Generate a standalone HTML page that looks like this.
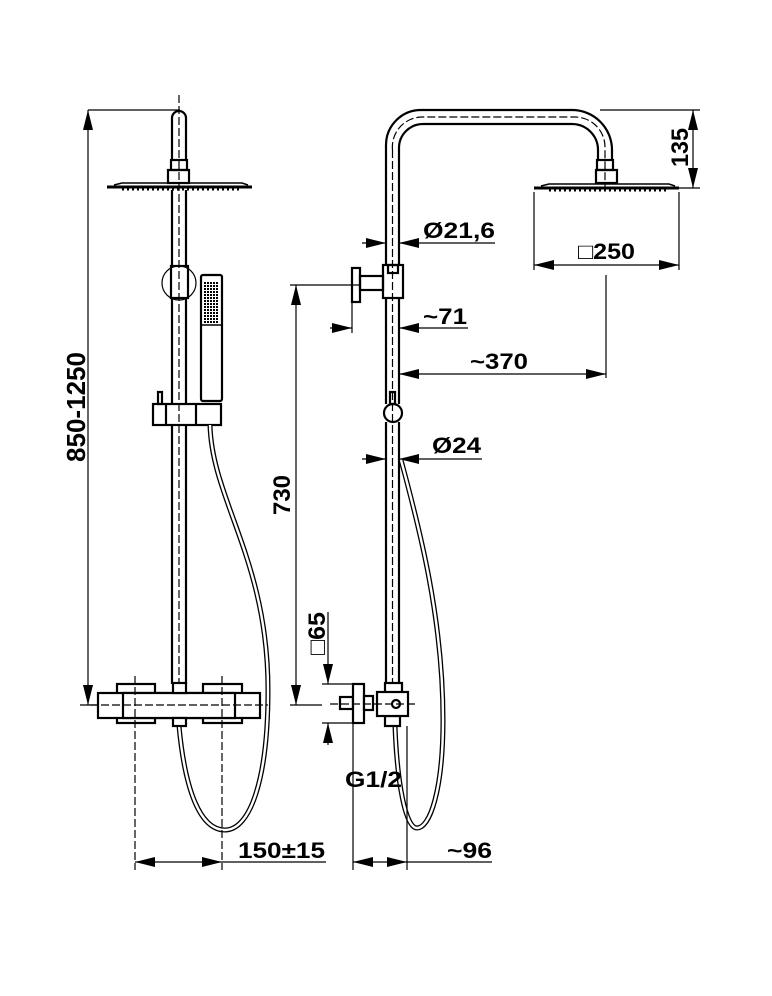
<!DOCTYPE html>
<html><head><meta charset="utf-8"><style>
html,body{margin:0;padding:0;background:#fff}
svg{display:block}
text{font-family:"Liberation Sans",Arial,sans-serif;font-weight:bold;fill:#000}
</style></head><body>
<svg width="772" height="996" viewBox="0 0 772 996" xmlns="http://www.w3.org/2000/svg">
<defs>
<marker id="a" viewBox="0 0 20 10" refX="20" refY="5" markerWidth="20" markerHeight="10" markerUnits="userSpaceOnUse" orient="auto-start-reverse"><path d="M0,0 L20,5 L0,10 z" fill="#000"/></marker>
<pattern id="dots" width="3" height="3" patternUnits="userSpaceOnUse"><rect width="2" height="2" fill="#000"/></pattern>
</defs>
<g fill="none" stroke="#000" stroke-width="1.2">
<!-- LEFT VIEW -->
<line x1="88" y1="110" x2="180" y2="110"/>
<line x1="80" y1="705" x2="180" y2="705"/>
<line x1="88" y1="110" x2="88" y2="705" marker-start="url(#a)" marker-end="url(#a)"/>
<line x1="179" y1="95" x2="179" y2="735" stroke-dasharray="8,3"/>
<g stroke-width="2.2">
<path d="M172,160 V118 a7,7 0 0 1 14,0 V160"/>
<rect x="171" y="160" width="16" height="10"/>
<rect x="168" y="170" width="21" height="13"/>
<line x1="172" y1="190" x2="172" y2="266"/>
<line x1="186" y1="190" x2="186" y2="266"/>
<rect x="171" y="266" width="17" height="32"/>
<line x1="172" y1="298" x2="172" y2="404"/>
<line x1="186" y1="298" x2="186" y2="404"/>
<line x1="172" y1="425" x2="172" y2="684"/>
<line x1="186" y1="425" x2="186" y2="684"/>
</g>
<circle cx="179" cy="283" r="17"/>
<path d="M107,187 H252" stroke-width="3"/>
<path d="M114,185 L122,183 H242 L248,185" stroke-width="1.5"/>
<path d="M122,189 H240" stroke-width="3" stroke-dasharray="2,3"/>
<rect x="201" y="275" width="21" height="126" rx="2" stroke-width="2.2"/>
<line x1="201" y1="325" x2="222" y2="325" stroke-width="1.5"/>
<rect x="204" y="282" width="15" height="42" fill="url(#dots)" stroke="none"/>
<g stroke-width="2.2">
<rect x="158" y="392" width="4" height="12"/>
<rect x="153" y="404" width="68" height="21"/>
<line x1="166" y1="404" x2="166" y2="425"/>
<line x1="196" y1="404" x2="196" y2="425"/>
</g>
<path d="M210,425 C212,500 268,560 268,690 C268,780 250,830 225,830 C200,830 185,790 179,726" stroke-width="5"/>
<path d="M210,425 C212,500 268,560 268,690 C268,780 250,830 225,830 C200,830 185,790 179,726" stroke="#fff" stroke-width="2.4"/>
<g stroke-width="2.2" fill="#fff">
<rect x="117" y="684" width="38" height="39"/>
<rect x="203" y="684" width="39" height="39"/>
<rect x="98" y="693" width="162" height="25"/>
<rect x="123" y="693" width="112" height="25"/>
<rect x="173" y="683" width="13" height="10"/>
<rect x="173" y="718" width="13" height="8"/>
</g>
<line x1="90" y1="705" x2="268" y2="705" stroke-dasharray="8,3"/>
<line x1="135" y1="676" x2="135" y2="870" stroke-dasharray="8,3"/>
<line x1="222" y1="676" x2="222" y2="870" stroke-dasharray="8,3"/>
<line x1="135" y1="862" x2="222" y2="862" marker-start="url(#a)" marker-end="url(#a)"/>
<line x1="222" y1="862" x2="326" y2="862"/>

<!-- RIGHT VIEW -->
<line x1="290" y1="285" x2="360" y2="285"/>
<line x1="290" y1="705" x2="322" y2="705"/>
<line x1="296" y1="285" x2="296" y2="705" marker-start="url(#a)" marker-end="url(#a)"/>
<g stroke-width="2.2">
<path d="M386,265 V145 a35,35 0 0 1 35,-35 H572 a40,40 0 0 1 40,40 V160"/>
<path d="M399,265 V148 a24,24 0 0 1 24,-24 H572 a26,26 0 0 1 26,26 V160"/>
<rect x="597" y="160" width="16" height="10"/>
<rect x="596" y="170" width="21" height="13"/>
<rect x="383" y="265" width="20" height="33"/>
<rect x="388" y="265" width="10" height="8"/>
<rect x="360" y="276" width="23" height="14"/>
<rect x="352" y="268" width="8" height="34"/>
<line x1="386" y1="298" x2="386" y2="404"/>
<line x1="399" y1="298" x2="399" y2="404"/>
<line x1="386" y1="422" x2="386" y2="684"/>
<line x1="399" y1="422" x2="399" y2="684"/>
<rect x="390" y="392" width="5" height="12"/>
<circle cx="393" cy="413" r="9"/>
</g>
<path d="M392.5,150 a30,30 0 0 1 30,-33 H575 a30,30 0 0 1 30,30 V190" stroke-dasharray="8,3"/>
<line x1="392.5" y1="150" x2="392.5" y2="700" stroke-dasharray="8,3"/>
<path d="M534,188 H679" stroke-width="3"/>
<path d="M541,186 L549,184 H669 L675,186" stroke-width="1.5"/>
<path d="M549,190 H667" stroke-width="3" stroke-dasharray="2,3"/>
<line x1="600" y1="110" x2="700" y2="110"/>
<line x1="679" y1="188" x2="700" y2="188"/>
<line x1="693" y1="110" x2="693" y2="188" marker-start="url(#a)" marker-end="url(#a)"/>
<line x1="534" y1="192" x2="534" y2="270"/>
<line x1="679" y1="192" x2="679" y2="270"/>
<line x1="534" y1="265" x2="679" y2="265" marker-start="url(#a)" marker-end="url(#a)"/>
<line x1="606" y1="275" x2="606" y2="378"/>
<line x1="399" y1="374" x2="606" y2="374" marker-start="url(#a)" marker-end="url(#a)"/>
<line x1="362" y1="243" x2="386" y2="243" marker-end="url(#a)"/>
<line x1="495" y1="243" x2="399" y2="243" marker-end="url(#a)"/>
<line x1="352" y1="302" x2="352" y2="333"/>
<line x1="330" y1="328" x2="352" y2="328" marker-end="url(#a)"/>
<line x1="468" y1="328" x2="399" y2="328" marker-end="url(#a)"/>
<line x1="362" y1="459" x2="386" y2="459" marker-end="url(#a)"/>
<line x1="482" y1="459" x2="399" y2="459" marker-end="url(#a)"/>
<path d="M401,460 C420,530 443,620 443,720 C443,790 430,828 417,828 C405,828 397,780 395,726" stroke-width="5"/>
<path d="M401,460 C420,530 443,620 443,720 C443,790 430,828 417,828 C405,828 397,780 395,726" stroke="#fff" stroke-width="2.4"/>
<g stroke-width="2.2" fill="#fff">
<rect x="340" y="697" width="13" height="12"/>
<rect x="353" y="684" width="11" height="39"/>
<rect x="364" y="696" width="9" height="14"/>
<rect x="385" y="683" width="17" height="10"/>
<rect x="385" y="716" width="15" height="10"/>
<rect x="377" y="692" width="31" height="24"/>
<circle cx="396" cy="704" r="4"/>
</g>
<line x1="330" y1="704" x2="418" y2="704" stroke-dasharray="8,3"/>
<line x1="322" y1="684" x2="353" y2="684"/>
<line x1="322" y1="723" x2="353" y2="723"/>
<line x1="328" y1="612" x2="328" y2="684" marker-end="url(#a)"/>
<line x1="328" y1="745" x2="328" y2="723" marker-end="url(#a)"/>
<line x1="353" y1="723" x2="353" y2="870"/>
<line x1="407" y1="726" x2="407" y2="870"/>
<line x1="380" y1="862" x2="353" y2="862" marker-end="url(#a)"/>
<line x1="380" y1="862" x2="407" y2="862" marker-end="url(#a)"/>
<line x1="407" y1="862" x2="492" y2="862"/>
</g>
<text transform="translate(85,462) rotate(-90)" font-size="26" textLength="110" lengthAdjust="spacingAndGlyphs">850-1250</text>
<text transform="translate(290,515) rotate(-90)" font-size="24" textLength="40" lengthAdjust="spacingAndGlyphs">730</text>
<text transform="translate(688,167) rotate(-90)" font-size="24" textLength="39" lengthAdjust="spacingAndGlyphs">135</text>
<text transform="translate(325,655) rotate(-90)" font-size="24" textLength="43" lengthAdjust="spacingAndGlyphs">□65</text>
<text x="423" y="238" font-size="22" textLength="72" lengthAdjust="spacingAndGlyphs">Ø21,6</text>
<text x="578" y="259" font-size="22" textLength="57" lengthAdjust="spacingAndGlyphs">□250</text>
<text x="423" y="324" font-size="22" textLength="44" lengthAdjust="spacingAndGlyphs">~71</text>
<text x="470" y="369" font-size="22" textLength="58" lengthAdjust="spacingAndGlyphs">~370</text>
<text x="432" y="453" font-size="22" textLength="49" lengthAdjust="spacingAndGlyphs">Ø24</text>
<text x="345" y="787" font-size="22" textLength="57" lengthAdjust="spacingAndGlyphs">G1/2</text>
<text x="238" y="858" font-size="22" textLength="87" lengthAdjust="spacingAndGlyphs">150±15</text>
<text x="447" y="858" font-size="22" textLength="45" lengthAdjust="spacingAndGlyphs">~96</text>
</svg>
</body></html>
